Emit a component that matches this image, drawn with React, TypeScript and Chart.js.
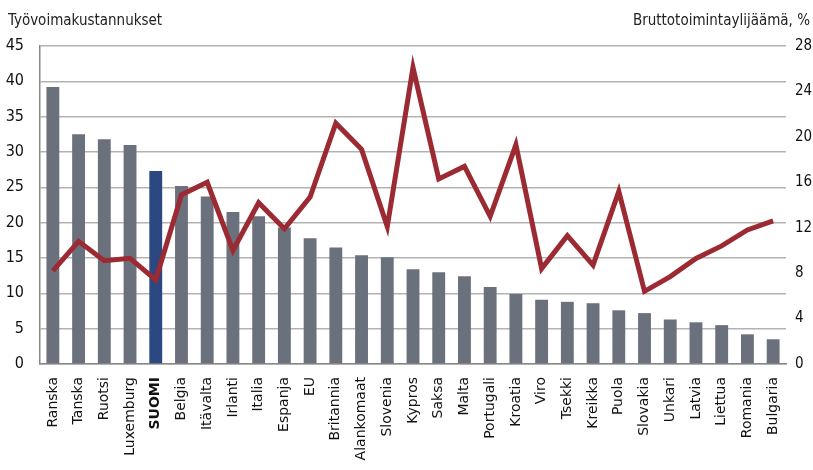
import React, { useEffect, useRef } from "react";
import { Chart, registerables } from "chart.js";

Chart.register(...registerables);

const categories = [
  "Ranska", "Tanska", "Ruotsi", "Luxemburg", "SUOMI", "Belgia", "Itävalta", "Irlanti",
  "Italia", "Espanja", "EU", "Britannia", "Alankomaat", "Slovenia", "Kypros", "Saksa",
  "Malta", "Portugali", "Kroatia", "Viro", "Tsekki", "Kreikka", "Puola", "Slovakia",
  "Unkari", "Latvia", "Liettua", "Romania", "Bulgaria",
];

const laborCosts = [
  39.2, 32.5, 31.8, 31.0, 27.3, 25.2, 23.7, 21.5, 20.9, 19.3, 17.8, 16.5, 15.4, 15.1,
  13.4, 13.0, 12.4, 10.9, 9.9, 9.1, 8.8, 8.6, 7.6, 7.2, 6.3, 5.9, 5.5, 4.2, 3.5,
];

const grossMargin = [
  8.2, 10.8, 9.1, 9.3, 7.4, 14.9, 16.0, 10.0, 14.2, 11.9, 14.7, 21.2, 18.9, 12.1,
  26.1, 16.3, 17.4, 13.0, 19.3, 8.4, 11.3, 8.7, 15.2, 6.4, 7.7, 9.3, 10.4, 11.8, 12.6,
];

const leftTitle = "Työvoimakustannukset";
const rightTitle = "Bruttotoimintaylijäämä, %";
const highlight = "SUOMI";

const NARROW = '"DejaVu Sans Condensed", "Liberation Sans Narrow", sans-serif';

export default function App() {
  const ref = useRef<HTMLCanvasElement | null>(null);

  useEffect(() => {
    if (!ref.current) return;
    const titles = {
      id: "sideTitles",
      afterDraw(chart: any) {
        const ctx = chart.ctx;
        ctx.save();
        ctx.fillStyle = "#222";
        ctx.font = `15px ${NARROW}`;
        ctx.textBaseline = "middle";
        ctx.textAlign = "left";
        ctx.fillText(leftTitle, 8, 21);
        ctx.textAlign = "right";
        ctx.fillText(rightTitle, 810, 21);
        ctx.restore();
      },
    };
    const chart = new Chart(ref.current, {
      type: "bar",
      data: {
        labels: categories,
        datasets: [
          {
            type: "line",
            data: grossMargin,
            yAxisID: "y1",
            borderColor: "#9c2a33",
            backgroundColor: "#9c2a33",
            borderWidth: 5,
            pointRadius: 0,
            tension: 0,
            borderJoinStyle: "miter",
            order: 0,
          } as any,
          {
            type: "bar",
            data: laborCosts,
            yAxisID: "y",
            backgroundColor: categories.map((c) => (c === highlight ? "#2b4880" : "#6a717d")),
            borderWidth: 0,
            barPercentage: 0.5,
            categoryPercentage: 1,
            order: 1,
          },
        ],
      },
      options: {
        responsive: false,
        animation: false,
        layout: { padding: { top: 46, left: 0, right: 0, bottom: 0 } },
        plugins: { legend: { display: false }, tooltip: { enabled: false } },
        scales: {
          x: {
            grid: { display: false, drawTicks: false },
            border: { display: true, color: "#888", width: 1.5 },
            ticks: {
              minRotation: 90,
              maxRotation: 90,
              autoSkip: false,
              padding: 13,
              color: "#111",
              font: (c: any) => ({
                family: '"DejaVu Sans", sans-serif',
                size: 14,
                weight: categories[c.index] === highlight ? "bold" : "normal",
              }),
            },
            afterFit: (s: any) => {
              s.height = 106;
            },
          },
          y: {
            position: "left",
            min: 0,
            max: 45,
            grid: { color: "#b3b3b3", lineWidth: 1.5, drawTicks: false },
            border: { display: true, color: "#888", width: 1.5 },
            ticks: {
              stepSize: 5,
              padding: 16,
              color: "#111",
              font: { family: NARROW, size: 16 },
            },
            afterFit: (s: any) => {
              s.width = 40;
            },
          },
          y1: {
            position: "right",
            min: 0,
            max: 28,
            grid: { display: false, drawTicks: false },
            border: { display: false },
            ticks: {
              stepSize: 4,
              padding: 9,
              color: "#111",
              font: { family: NARROW, size: 15 },
            },
            afterFit: (s: any) => {
              s.width = 27;
            },
          },
        },
      },
      plugins: [titles],
    });
    return () => chart.destroy();
  }, []);

  return (
    <div style={{ position: "absolute", left: 0, top: 0, width: 813, height: 470, background: "#fff" }}>
      <canvas ref={ref} width={813} height={470} />
    </div>
  );
}
